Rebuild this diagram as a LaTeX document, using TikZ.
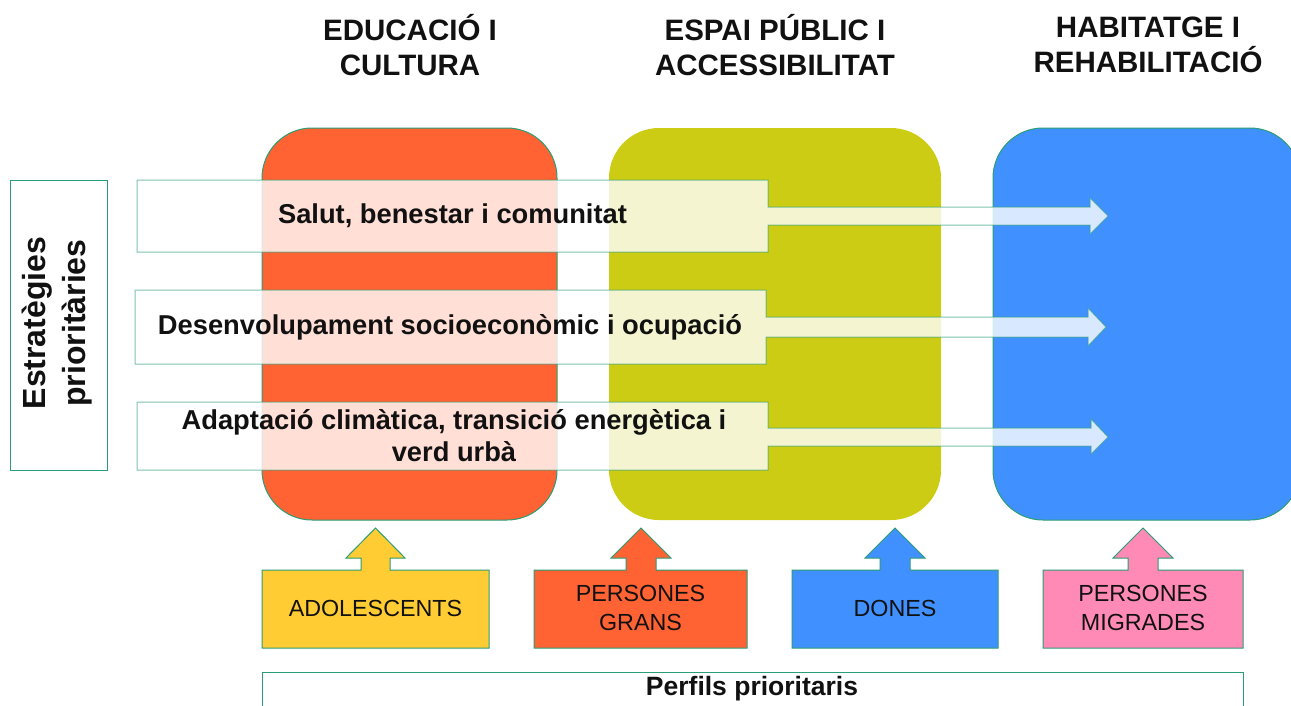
\documentclass[tikz,border=0pt]{standalone}
\usepackage{fontspec}
\setmainfont{Liberation Sans}
\definecolor{gborder}{HTML}{2A9D74}
\definecolor{corange}{HTML}{FF6333}
\definecolor{colive}{HTML}{CCCC14}
\definecolor{cblue}{HTML}{4091FF}
\definecolor{cyellow}{HTML}{FFCC33}
\definecolor{cpink}{HTML}{FF8AB5}
\definecolor{ctext}{HTML}{111111}
\begin{document}
\begin{tikzpicture}[x=1pt,y=-1pt,
  hdr/.style={font=\fontsize{29.5}{35}\selectfont\bfseries, align=center, text=ctext, inner sep=0},
  col/.style={rounded corners=50pt, inner sep=0, minimum width=#1},
  strat/.style={draw=gborder, draw opacity=0.6, fill=white, fill opacity=0.8, line width=1pt},
  strattext/.style={font=\fontsize{27.3}{32}\selectfont\bfseries, align=center, text=ctext, inner sep=0},
  prof/.style={draw=gborder, line width=1pt},
  proftext/.style={font=\fontsize{23.3}{29}\selectfont, align=center, text=ctext, inner sep=0},
  frame/.style={draw=gborder, line width=1pt, fill=white}
]
\useasboundingbox (0,0) rectangle (1291,705);
\clip (0,0) rectangle (1291,705);

% headers
\node[hdr] (h1) at (410,45) {EDUCACIÓ I\\CULTURA};
\node[hdr] (h2) at (775,45) {ESPAI PÚBLIC I\\ACCESSIBILITAT};
\node[hdr] (h3) at (1148,45) {HABITATGE I\\REHABILITACIÓ};

% columns
\node[col=295pt, minimum height=392pt, fill=corange, draw=gborder, line width=1pt] (c1) at (409.5,324) {};
\node[col=332pt, minimum height=392pt, fill=colive] (c2) at (775,324) {};
\node[col=307pt, minimum height=392pt, fill=cblue, draw=gborder, line width=1pt] (c3) at (1146.5,324) {};

% left frame
\node[frame, minimum width=97pt, minimum height=290pt, inner sep=0] (lf) at (58.5,325) {};
\node[rotate=90, font=\fontsize{32}{40}\selectfont\bfseries, align=center, text=ctext, inner sep=0] (lt) at (57,323) {Estratègies\\prioritàries};

% strategy arrows
\path[strat] (137,180) -- (768,180) -- (768,207) -- (1090,207) -- (1090,198) -- (1108,216)
  -- (1090,234) -- (1090,225) -- (768,225) -- (768,252) -- (137,252) -- cycle;
\path[strat] (135,290) -- (766,290) -- (766,317) -- (1088,317) -- (1088,308) -- (1106,327)
  -- (1088,346) -- (1088,337) -- (766,337) -- (766,364) -- (135,364) -- cycle;
\path[strat] (137,402) -- (768,402) -- (768,428) -- (1091,428) -- (1091,419) -- (1108,437)
  -- (1091,454) -- (1091,446) -- (768,446) -- (768,470) -- (137,470) -- cycle;
\node[strattext] (s1) at (452.5,216) {Salut, benestar i comunitat};
\node[strattext] (s2) at (450,327) {Desenvolupament socioeconòmic i ocupació};
\node[strattext] (s3) at (454,436) {Adaptació climàtica, transició energètica i\\verd urbà};

% profiles
\path[prof, fill=cyellow] (262,570) -- (361,570) -- (361,558) -- (346,558) -- (375.5,528) -- (405,558)
  -- (390,558) -- (390,570) -- (489,570) -- (489,648) -- (262,648) -- cycle;
\path[prof, fill=corange] (534,570) -- (626,570) -- (626,558) -- (611,558) -- (641,528) -- (671,558)
  -- (656,558) -- (656,570) -- (747,570) -- (747,648) -- (534,648) -- cycle;
\path[prof, fill=cblue] (792,570) -- (880,570) -- (880,558) -- (865,558) -- (895,528) -- (925,558)
  -- (910,558) -- (910,570) -- (998,570) -- (998,648) -- (792,648) -- cycle;
\path[prof, fill=cpink] (1043,570) -- (1128,570) -- (1128,558) -- (1113,558) -- (1143,528) -- (1173,558)
  -- (1158,558) -- (1158,570) -- (1243,570) -- (1243,648) -- (1043,648) -- cycle;
\node[proftext] (p1) at (375.5,608) {ADOLESCENTS};
\node[proftext] (p2) at (640.5,608) {PERSONES\\GRANS};
\node[proftext] (p3) at (895,608) {DONES};
\node[proftext] (p4) at (1143,608) {PERSONES\\MIGRADES};

% bottom frame
\node[frame, minimum width=981pt, minimum height=60pt, inner sep=0] (bf) at (752.5,702) {};
\node[font=\fontsize{26.5}{30}\selectfont\bfseries, text=ctext, inner sep=0] (bt) at (752,689) {Perfils prioritaris};
\end{tikzpicture}
\end{document}
